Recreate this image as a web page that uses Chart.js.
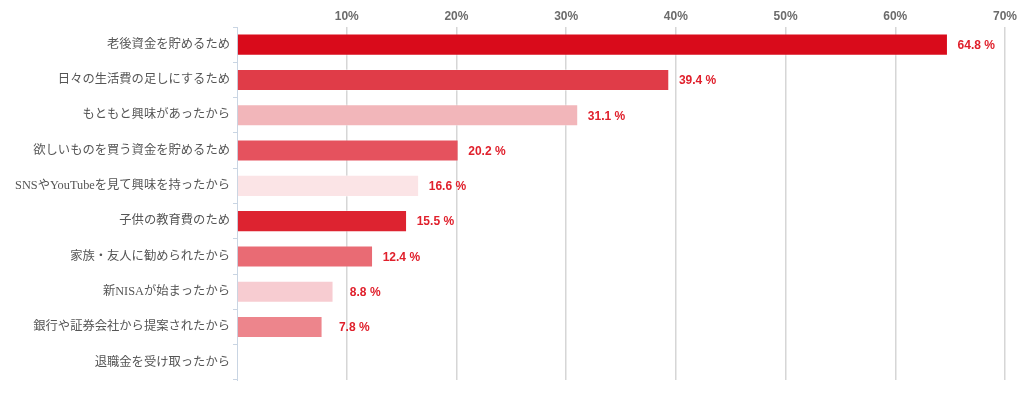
<!DOCTYPE html>
<html>
<head>
<meta charset="utf-8">
<script src="https://cdn.jsdelivr.net/npm/chart.js@4/dist/chart.umd.min.js"></script>
<style>
  html, body { margin: 0; padding: 0; background: #fff; }
  #wrap { width: 1024px; height: 394px; }
</style>
</head>
<body>
<div id="wrap"><canvas id="reasonChart"></canvas></div>
<script>
const reasons = [
  '老後資金を貯めるため',
  '日々の生活費の足しにするため',
  'もともと興味があったから',
  '欲しいものを買う資金を貯めるため',
  'SNSやYouTubeを見て興味を持ったから',
  '子供の教育費のため',
  '家族・友人に勧められたから',
  '新NISAが始まったから',
  '銀行や証券会社から提案されたから',
  '退職金を受け取ったから'
];
const shares = [64.8, 39.4, 31.1, 20.2, 16.6, 15.5, 12.4, 8.8, 7.8, 0];
const barColors = [
  '#d90b1b', '#e03c48', '#f2b6ba', '#e5525e', '#fbe4e6',
  '#dd2330', '#e96b74', '#f7ccd1', '#ed858c', '#ed858c'
];
const xTicks = [10, 20, 30, 40, 50, 60, 70];

// value labels, right aligned in a fixed box after the bar end
const valueLabels = {
  id: 'valueLabels',
  afterDatasetsDraw(chart) {
    const ctx = chart.ctx;
    const meta = chart.getDatasetMeta(0);
    ctx.save();
    ctx.font = 'bold 12px "Liberation Sans", Arial, sans-serif';
    ctx.fillStyle = '#e0202c';
    ctx.textAlign = 'right';
    ctx.textBaseline = 'middle';
    meta.data.forEach((bar, i) => {
      if (!shares[i]) return;
      ctx.fillText(shares[i].toFixed(1) + ' %', bar.x + 47, bar.y + 1);
    });
    ctx.restore();
  }
};

new Chart(document.getElementById('reasonChart'), {
  type: 'bar',
  data: {
    labels: reasons,
    datasets: [{
      data: shares,
      backgroundColor: barColors,
      borderColor: 'rgba(255,255,255,0.35)',
      borderWidth: 1,
      categoryPercentage: 0.625,
      barPercentage: 1
    }]
  },
  options: {
    indexAxis: 'y',
    responsive: true,
    maintainAspectRatio: false,
    animation: false,
    layout: { padding: { top: 0, right: 19, bottom: 14, left: 0 } },
    plugins: {
      legend: { display: false },
      tooltip: { enabled: false }
    },
    scales: {
      x: {
        position: 'top',
        min: 0,
        max: 70,
        afterBuildTicks(axis) {
          axis.ticks = [0].concat(xTicks).map(v => ({ value: v }));
        },
        afterFit(axis) { axis.height = 27; },
        grid: {
          color: ctx => (ctx.tick && ctx.tick.value === 0) ? 'rgba(0,0,0,0)' : '#d6d6d6',
          lineWidth: 1.5,
          drawTicks: false
        },
        border: { display: false },
        ticks: {
          padding: 3,
          color: '#6b6b6b',
          font: { family: '"Liberation Sans", Arial, sans-serif', size: 12, weight: 'bold' },
          callback: v => v === 0 ? '' : v + '%'
        }
      },
      y: {
        afterFit(axis) { axis.width = 237; },
        grid: {
          offset: true,
          drawOnChartArea: false,
          tickLength: 4,
          color: '#c9d5e3'
        },
        border: { display: true, color: '#c9d5e3', width: 1 },
        ticks: {
          padding: 3,
          color: '#555555',
          font: { family: '"Liberation Serif", "Noto Sans CJK JP", serif', size: 12.3 }
        }
      }
    }
  },
  plugins: [valueLabels]
});
</script>
</body>
</html>
